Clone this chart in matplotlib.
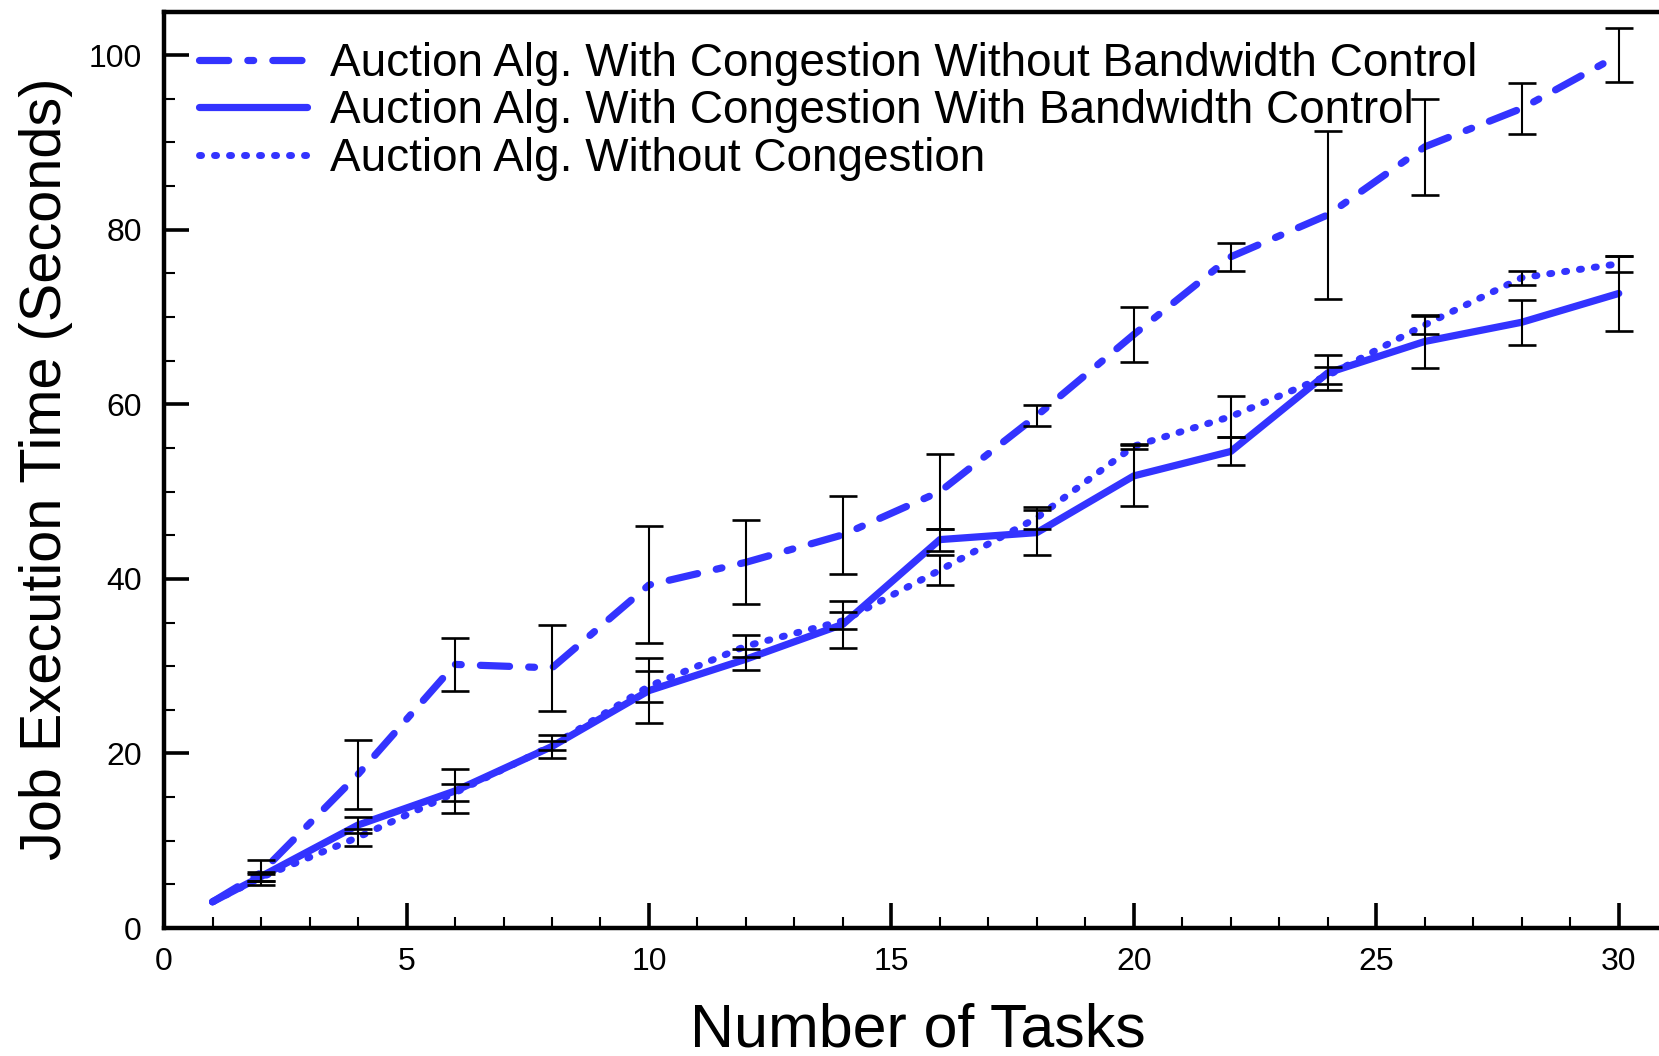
import matplotlib
matplotlib.use("Agg")
import matplotlib.pyplot as plt
import numpy as np
from matplotlib.ticker import MultipleLocator

plt.rcParams['font.family'] = ['Liberation Sans', 'DejaVu Sans']
plt.rcParams['lines.scale_dashes'] = False

tasks = np.array([1, 2, 4, 6, 8, 10, 12, 14, 16, 18, 20, 22, 24, 26, 28, 30])

# mean job time and error (seconds); first point has no error bar
no_bw = np.array([3.0, 6.35, 17.6, 30.2, 29.8, 39.3, 41.9, 45.05, 50.0, 58.7, 68.0, 76.9, 81.7, 89.5, 93.9, 100.0])
no_bw_err = np.array([0, 1.45, 3.95, 3.0, 4.9, 6.7, 4.8, 4.45, 4.25, 1.2, 3.2, 1.6, 9.6, 5.5, 2.9, 3.1])

with_bw = np.array([3.0, 5.9, 11.8, 15.7, 20.8, 27.2, 30.8, 34.8, 44.5, 45.3, 51.8, 54.6, 63.6, 67.2, 69.4, 72.7])
with_bw_err = np.array([0, 0.5, 0.95, 2.5, 1.3, 3.75, 1.2, 2.7, 1.25, 2.6, 3.5, 1.6, 2.0, 3.0, 2.55, 4.25])

no_cong = np.array([3.0, 5.8, 10.4, 15.5, 20.9, 27.7, 32.3, 35.2, 41.0, 47.0, 55.2, 58.6, 63.3, 69.1, 74.5, 76.1])
no_cong_err = np.array([0, 0.4, 0.95, 1.0, 0.5, 1.8, 1.25, 1.0, 1.75, 1.25, 0.3, 2.3, 1.0, 1.0, 0.8, 0.9])

labels = ["Auction Alg. With Congestion Without Bandwidth Control",
          "Auction Alg. With Congestion With Bandwidth Control",
          "Auction Alg. Without Congestion"]

blue = '#3333ff'

fig = plt.figure(figsize=(16.59, 10.56), dpi=100)
ax = fig.add_axes([0.0989, 0.1212, 0.9353, 0.8679])

ax.plot(tasks, no_bw, color=blue, lw=5.2, dashes=(21, 13.8, 4.2, 13.8),
        dash_capstyle='round', label=labels[0], zorder=2)
ax.plot(tasks, with_bw, color=blue, lw=5.2, solid_capstyle='round',
        label=labels[1], zorder=2)
ax.plot(tasks, no_cong, color=blue, lw=5.0, dashes=(1.5, 9.3),
        dash_capstyle='round', label=labels[2], zorder=2)

for y, err in [(no_bw, no_bw_err), (with_bw, with_bw_err), (no_cong, no_cong_err)]:
    ax.errorbar(tasks[1:], y[1:], yerr=err[1:], fmt='none', ecolor='black',
                elinewidth=1.5, capsize=10, capthick=1.9, zorder=3)

ax.set_xlim(0, 32)
ax.set_ylim(0, 105)
ax.xaxis.set_major_locator(MultipleLocator(5))
ax.xaxis.set_minor_locator(MultipleLocator(1))
ax.yaxis.set_major_locator(MultipleLocator(20))
ax.yaxis.set_minor_locator(MultipleLocator(5))

ax.tick_params(which='both', direction='in', top=False, right=False)
ax.tick_params(which='major', length=18, width=2.6)
ax.tick_params(which='minor', length=8, width=1.5)
ax.tick_params(axis='x', labelsize=23, pad=14)
ax.tick_params(axis='y', labelsize=23, pad=16)

for side in ['left', 'bottom', 'top']:
    ax.spines[side].set_linewidth(3.2)
ax.spines['right'].set_visible(False)

ax.set_xlabel("Number of Tasks", fontsize=43.8)
ax.xaxis.set_label_coords(0.4856, -0.081)
ax.set_ylabel("Job Execution Time (Seconds)", fontsize=41.5)
ax.yaxis.set_label_coords(-0.059, 0.5007)

ax.legend(loc='upper left', bbox_to_anchor=(0.12, 0.9604), bbox_transform=fig.transFigure,
          frameon=False, fontsize=33, handlelength=2.36, handletextpad=0.5,
          labelspacing=0.075, borderpad=0, borderaxespad=0)

fig.savefig("out.png", dpi=100)
